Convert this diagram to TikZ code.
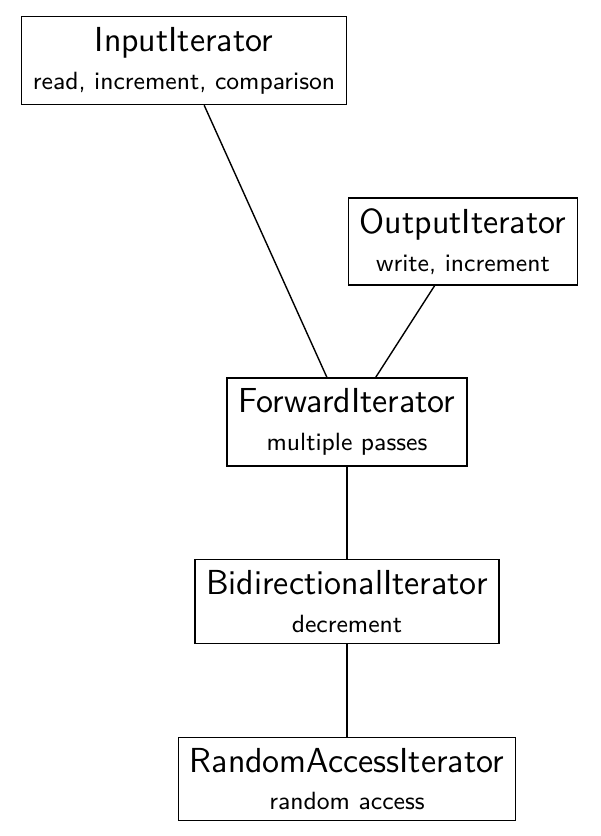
\documentclass[tikz,border=0pt]{standalone}
\usepackage{tikz}
\usetikzlibrary{positioning}
\tikzset{>=latex}
\tikzstyle{iter} = [rectangle, draw = black, align = center, inner xsep = 4.1pt, inner ysep = 3.8pt, font = \sffamily]
\newcommand{\itname}[1]{{\fontsize{12.4}{14}\selectfont #1}}
\newcommand{\itops}[1]{{\fontsize{8.9}{11}\selectfont #1}}

\begin{document}
\begin{tikzpicture}[x = 0.357pt, y = -0.357pt, line width = 0.5pt]
\useasboundingbox (0, 0) rectangle (601, 836);
%\node [draw=none] at (300, 10) {iterator categories};
\node [iter] (In) at (184, 60.5) {\itname{InputIterator}\\[1.5pt]\itops{read, increment, comparison}};
\node [iter] (Out) at (463, 241.5) {\itname{OutputIterator}\\[1.5pt]\itops{write, increment}};
\node [iter] (Fwd) at (347, 422) {\itname{ForwardIterator}\\[1.5pt]\itops{multiple passes}};
\node [iter] (Bi) at (347, 601.5) {\itname{BidirectionalIterator}\\[1.5pt]\itops{decrement}};
\node [iter] (Rnd) at (347, 779) {\itname{RandomAccessIterator}\\[1.5pt]\itops{random access}};
\draw [-] (In) -- (Fwd);
\draw [-] (Out) -- (Fwd);
\draw [-] (Fwd) -- (Bi);
\draw [-] (Bi) -- (Rnd);
\end{tikzpicture}
\end{document}
